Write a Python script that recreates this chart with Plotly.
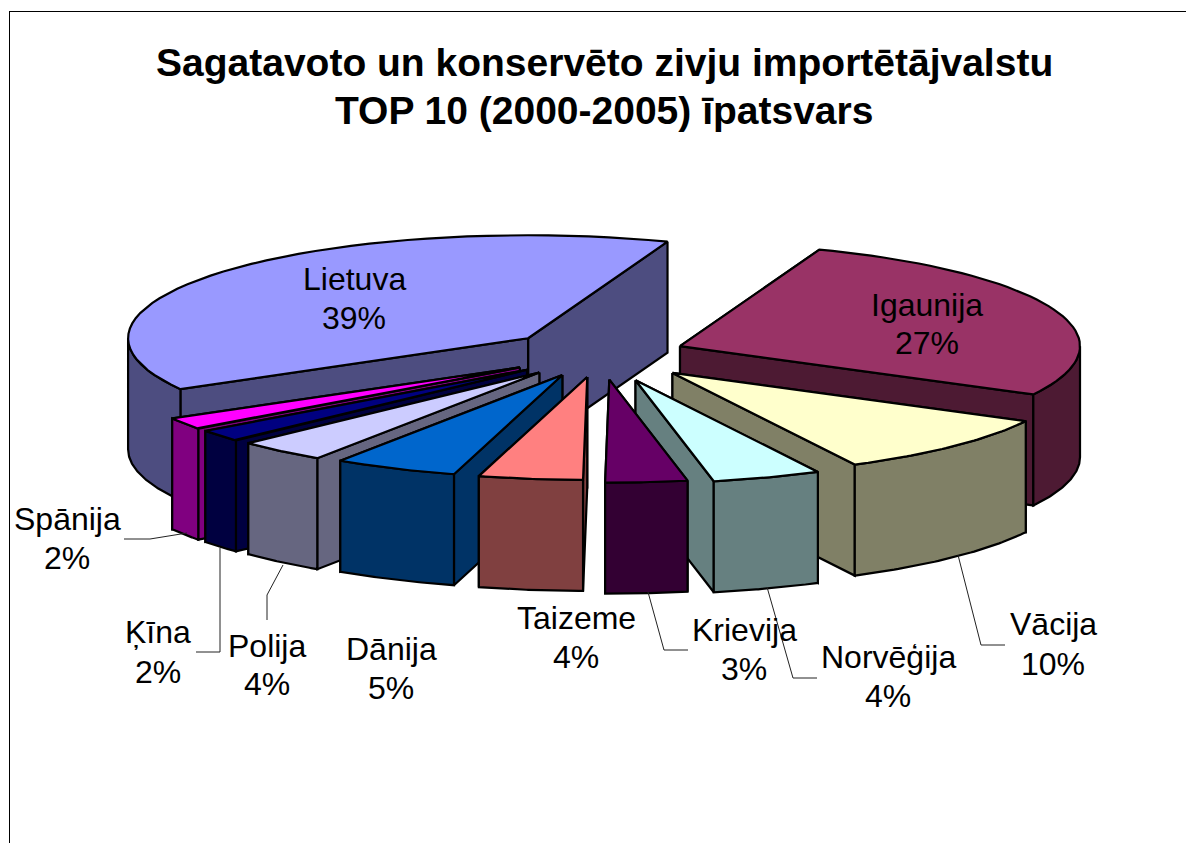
import math
import plotly.graph_objects as go

# Data (percent share; labels show the rounded value)
countries = ["Igaunija", "Vācija", "Norvēģija", "Krievija", "Taizeme",
             "Dānija", "Polija", "Ķīna", "Spānija", "Lietuva"]
shares = [27.1, 9.7, 4.4, 3.3, 4.2, 5.0, 3.6, 1.9, 1.9, 38.9]
top_colors = ["#993366", "#FFFFCC", "#CCFFFF", "#660066", "#FF8080",
              "#0066CC", "#CCCCFF", "#000080", "#FF00FF", "#9999FF"]
side_colors = ["#4D1A33", "#808066", "#668080", "#330033", "#804040",
               "#003366", "#666680", "#000040", "#800080", "#4D4D80"]
pulls = [0.214, 0.258, 0.27, 0.25, 0.225, 0.225, 0.235, 0.238, 0.239, 0.236]

title_lines = ["Sagatavoto un konservēto zivju importētājvalstu",
               "TOP 10 (2000-2005) īpatsvars"]

# Projection of the pie onto the page
CX, CY, RX, RY, DEPTH = 600, 354, 400, 103, 111
FIRST_ANGLE = -69.6
draw_order = [0, 1, 2, 9, 8, 7, 6, 5, 4, 3]

label_pos = {  # x centre, y line 1, y line 2
    "Lietuva": (354, 279, 318), "Igaunija": (927, 305, 343),
    "Vācija": (1053, 624, 664), "Norvēģija": (888, 657, 696),
    "Krievija": (744, 630, 669), "Taizeme": (576, 618, 657),
    "Dānija": (391, 649, 688), "Polija": (267, 646, 684),
    "Ķīna": (158, 632, 672), "Spānija": (67, 519, 558),
}
leaders = [
    ([124, 150, 187], [539, 539, 533]),
    ([196, 220, 220], [652, 652, 548]),
    ([267, 267, 283], [620, 595, 565]),
    ([648, 664, 688], [592, 650, 650]),
    ([767, 793, 817], [587, 678, 678]),
    ([958, 981, 1005], [555, 645, 645]),
]

fig = go.Figure()


def poly(xs, ys, color):
    fig.add_trace(go.Scatter(
        x=xs + xs[:1], y=ys + ys[:1], mode="lines", fill="toself",
        fillcolor=color, line=dict(color="black", width=2.2),
        hoverinfo="skip", showlegend=False))


def arc(cx, cy, a0, a1, dy=0, n=48):
    pts = [a0 + (a1 - a0) * i / n for i in range(n + 1)]
    return ([cx + RX * math.cos(math.radians(a)) for a in pts],
            [cy + dy + RY * math.sin(math.radians(a)) for a in pts])


# angle range of each slice
ranges, a = [], FIRST_ANGLE
for s in shares:
    ranges.append((a, a + s * 3.6))
    a += s * 3.6

for i in draw_order:
    a0, a1 = ranges[i]
    mid_deg = (a0 + a1) / 2
    mid = math.radians(mid_deg)
    ax = CX + pulls[i] * RX * math.cos(mid)
    ay = CY + pulls[i] * RY * math.sin(mid)
    # radial faces, the hidden one first
    for ang in ((a1, a0) if mid_deg > 90 else (a0, a1)):
        ex = ax + RX * math.cos(math.radians(ang))
        ey = ay + RY * math.sin(math.radians(ang))
        poly([ax, ex, ex, ax], [ay, ey, ey + DEPTH, ay + DEPTH], side_colors[i])
    # visible part of the outer wall
    v0, v1 = max(a0, 0), min(a1, 180)
    if v1 > v0:
        xs, ys = arc(ax, ay, v0, v1)
        xb, yb = arc(ax, ay, v1, v0, DEPTH)
        poly(xs + xb, ys + yb, side_colors[i])
    # top
    xs, ys = arc(ax, ay, a0, a1)
    poly([ax] + xs, [ay] + ys, top_colors[i])

for lx, ly in leaders:
    fig.add_trace(go.Scatter(x=lx, y=ly, mode="lines",
                             line=dict(color="#222222", width=1),
                             hoverinfo="skip", showlegend=False))

ann = []
FONT = "Liberation Sans, Arial, sans-serif"
for name, s in zip(countries, shares):
    x, y1, y2 = label_pos[name]
    for txt, y in ((name, y1), (f"{round(s)}%", y2)):
        ann.append(dict(x=x, y=y, text=txt, showarrow=False, xanchor="center",
                        yanchor="middle", font=dict(family=FONT, size=32, color="black")))
for txt, y in zip(title_lines, (62, 110)):
    ann.append(dict(x=604, y=y, text=f"<b>{txt}</b>", showarrow=False, xanchor="center",
                    yanchor="middle", font=dict(family=FONT, size=39, color="black")))

fig.update_layout(
    width=1186, height=843, margin=dict(l=0, r=0, t=0, b=0),
    paper_bgcolor="white", plot_bgcolor="white", showlegend=False,
    xaxis=dict(range=[0, 1186], visible=False, fixedrange=True),
    yaxis=dict(range=[843, 0], visible=False, fixedrange=True),
    annotations=ann,
    shapes=[dict(type="line", x0=9.5, x1=9.5, y0=11, y1=843, line=dict(color="black", width=1)),
            dict(type="line", x0=9.5, x1=1186, y0=11.5, y1=11.5, line=dict(color="black", width=1))],
)
fig.write_html("out.html", config=dict(displayModeBar=False),
               post_script="document.body.style.margin='0';document.documentElement.style.overflow='hidden';")
